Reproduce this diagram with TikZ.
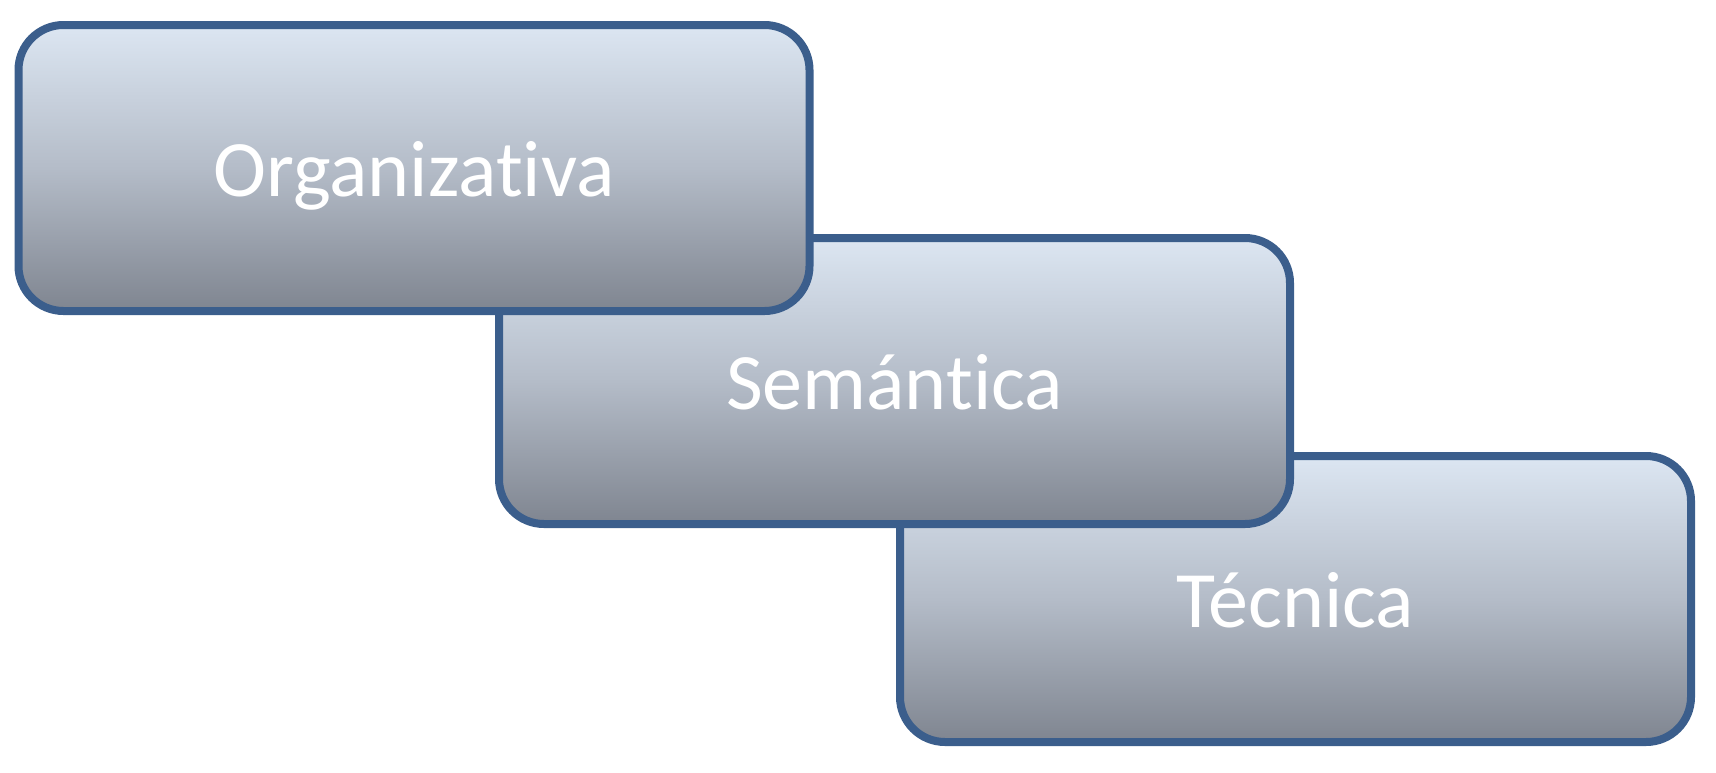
\documentclass[tikz,border=0pt]{standalone}
\usepackage{fontspec}
\setmainfont{Carlito}[Ligatures=NoCommon]
\definecolor{boxtop}{HTML}{DCE6F2}
\definecolor{boxmid}{HTML}{B4BCC8}
\definecolor{boxbot}{HTML}{7F8590}
\definecolor{boxline}{HTML}{3B5E8C}
\begin{document}
\begin{tikzpicture}[x=1pt,y=-1pt,
  layerbox/.style={draw=boxline, line width=8pt, rounded corners=45pt,
    top color=boxtop, bottom color=boxbot, middle color=boxmid,
    minimum width=791pt, minimum height=286pt, inner sep=0pt,
    text height=57pt, text depth=0pt,
    text=white, font=\fontsize{80}{92}\selectfont}]
\useasboundingbox (0,0) rectangle (1716,772);
\node[layerbox] (tec) at (1295.5,599) {Técnica};
\node[layerbox] (sem) at (894.5,381) {Semántica};
\node[layerbox] (org) at (414,168) {Organizativa};
\end{tikzpicture}
\end{document}
